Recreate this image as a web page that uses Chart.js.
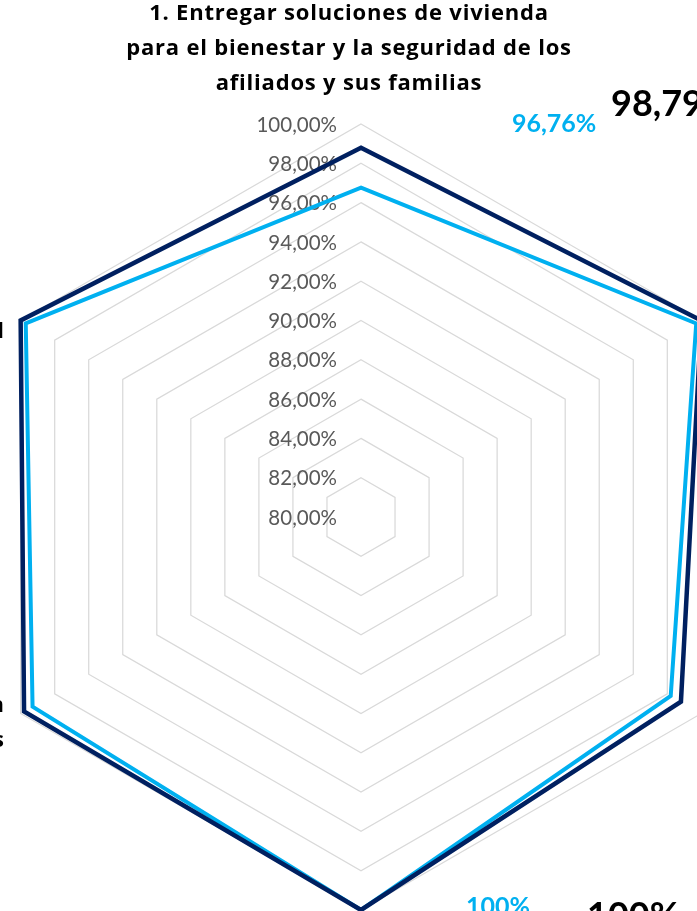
<!DOCTYPE html>
<html lang="es">
<head>
<meta charset="utf-8">
<title>Radar objetivos</title>
<script src="https://cdn.jsdelivr.net/npm/chart.js@4.4.1/dist/chart.umd.min.js"></script>
<style>
  html, body { margin: 0; padding: 0; background: #fff; overflow: hidden; }
  body { width: 697px; height: 911px; position: relative; }
  #radar { position: absolute; left: -32px; top: 0; }
</style>
</head>
<body>
<canvas id="radar" width="786" height="911"></canvas>
<script>
// axis titles (only the parts that fall inside the picture are known)
const categories = [
  ['1. Entregar soluciones de vivienda', 'para el bienestar y la seguridad de los', 'afiliados y sus familias'],
  [''],
  [''],
  [''],
  ['n', 's'],
  ['l'],
];
const seriesDark = [98.79, 100, 98.8, 100, 99.8, 100];
const seriesLight = [96.76, 99.7, 98.2, 100, 99.3, 99.7];
const tickMin = 80;
const tickMax = 100;
const tickStep = 2;

const DARK = '#002060';
const LIGHT = '#00B0F0';

const fmtTick = v => v.toFixed(2).replace('.', ',') + '%';
const fmtValue = v => (Number.isInteger(v) ? String(v) : v.toFixed(2).replace('.', ',')) + '%';

// where each axis title sits, relative to the outer (100%) vertex: [dx, dy of first baseline, align]
const titlePlace = [
  [-12, -104.5, 'center'],
  [30, 0, 'left'],
  [30, 0, 'left'],
  [0, 60, 'center'],
  [-16, -1.5, 'right'],
  [-16, 17.5, 'right'],
];
// data label placement relative to the point: [dx, dy (baseline), align]
const darkLabelPlace = [
  [250, -32, 'left'], [40, 0, 'left'], [40, 0, 'left'],
  [226, 18, 'left'], [-40, 0, 'right'], [-40, 0, 'right'],
];
const lightLabelPlace = [
  [151, -56, 'left'], [40, 30, 'left'], [40, 30, 'left'],
  [105, 5, 'left'], [-40, 30, 'right'], [-40, 30, 'right'],
];

const labelLayer = {
  id: 'labelLayer',
  beforeDatasetsDraw(chart) {
    const s = chart.scales.r;
    const ctx = chart.ctx;
    ctx.save();
    ctx.font = '20.5px Lato';
    ctx.fillStyle = '#595959';
    ctx.textAlign = 'right';
    ctx.textBaseline = 'middle';
    s.ticks.forEach(t => {
      const y = s.yCenter - s.getDistanceFromCenterForValue(t.value);
      ctx.fillText(fmtTick(t.value), s.xCenter - 24, y + 1);
    });
    ctx.restore();
  },
  afterDatasetsDraw(chart) {
    const s = chart.scales.r;
    const ctx = chart.ctx;
    ctx.save();
    ctx.textBaseline = 'alphabetic';

    // axis titles
    ctx.font = 'bold 22px "Open Sans"';
    ctx.letterSpacing = '0.8px';
    ctx.fillStyle = '#000';
    categories.forEach((lines, i) => {
      const p = s.getPointPosition(i, s.drawingArea);
      const [dx, dy, align] = titlePlace[i];
      ctx.textAlign = align;
      lines.forEach((line, k) => ctx.fillText(line, p.x + dx, p.y + dy + k * 35));
    });
    ctx.letterSpacing = '0px';

    // data labels
    const drawLabels = (values, place, font, color) => {
      ctx.font = font;
      ctx.fillStyle = color;
      values.forEach((v, i) => {
        const p = s.getPointPosition(i, s.getDistanceFromCenterForValue(v));
        const [dx, dy, align] = place[i];
        ctx.textAlign = align;
        ctx.fillText(fmtValue(v), p.x + dx, p.y + dy);
      });
    };
    drawLabels(seriesLight, lightLabelPlace, 'bold 25px Lato', LIGHT);
    drawLabels(seriesDark, darkLabelPlace, 'bold 36px Lato', '#000');
    ctx.restore();
  },
};

new Chart(document.getElementById('radar'), {
  type: 'radar',
  data: {
    labels: categories,
    datasets: [
      {
        label: 'Serie 1',
        data: seriesDark,
        borderColor: DARK,
        borderWidth: 4.5,
        fill: false,
        pointRadius: 0,
        pointHoverRadius: 0,
      },
      {
        label: 'Serie 2',
        data: seriesLight,
        borderColor: LIGHT,
        borderWidth: 4,
        fill: false,
        pointRadius: 0,
        pointHoverRadius: 0,
      },
    ],
  },
  options: {
    responsive: false,
    animation: false,
    devicePixelRatio: 1,
    layout: { padding: { top: 124, bottom: 1, left: 0, right: 0 } },
    elements: { line: { tension: 0, borderJoinStyle: 'miter' } },
    plugins: {
      legend: { display: false },
      tooltip: { enabled: false },
    },
    scales: {
      r: {
        min: tickMin,
        max: tickMax,
        ticks: { stepSize: tickStep, display: false },
        pointLabels: { display: false },
        angleLines: { display: false },
        grid: { circular: false, color: '#d9d9d9', lineWidth: 1.25 },
      },
    },
  },
  plugins: [labelLayer],
});
</script>
</body>
</html>
